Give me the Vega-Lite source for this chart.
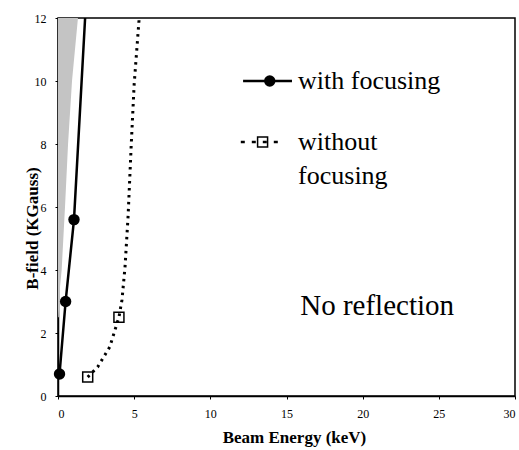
{
  "$schema": "https://vega.github.io/schema/vega-lite/v6.json",
  "width": 457,
  "height": 378,
  "autosize": {"type": "none"},
  "padding": {"left": 58, "top": 18, "right": 4, "bottom": 54},
  "background": "white",
  "config": {
    "view": {"stroke": "black", "strokeWidth": 1.5},
    "font": "Liberation Serif"
  },
  "datasets": {
    "hatch": [
      {"B": 2.5, "left": 0, "right": 0.05},
      {"B": 3.3, "left": 0, "right": 0.1},
      {"B": 4.0, "left": 0, "right": 0.24},
      {"B": 6.0, "left": 0, "right": 0.46},
      {"B": 8.0, "left": 0, "right": 0.66},
      {"B": 10.0, "left": 0, "right": 0.92},
      {"B": 12.0, "left": 0, "right": 1.31}
    ],
    "focus": [
      {"E": 0.1, "B": 0.7},
      {"E": 0.5, "B": 3.0},
      {"E": 1.05, "B": 5.6},
      {"E": 1.78, "B": 12.0}
    ],
    "nofocus": [
      {"E": 1.95, "B": 0.6},
      {"E": 2.6, "B": 0.92},
      {"E": 3.4, "B": 1.56},
      {"E": 4.0, "B": 2.5},
      {"E": 4.2, "B": 3.05},
      {"E": 4.4, "B": 4.1},
      {"E": 4.6, "B": 5.7},
      {"E": 4.8, "B": 7.9},
      {"E": 5.0, "B": 9.9},
      {"E": 5.33, "B": 12.0}
    ],
    "focusMarkers": [
      {"E": 0.1, "B": 0.7},
      {"E": 0.5, "B": 3.0},
      {"E": 1.05, "B": 5.6},
      {"E": 13.9, "B": 10.0}
    ],
    "nofocusMarkers": [
      {"E": 1.95, "B": 0.6},
      {"E": 4.0, "B": 2.5},
      {"E": 13.43, "B": 8.06}
    ],
    "legendSolid": [
      {"E": 12.15, "B": 10.0},
      {"E": 15.36, "B": 10.0}
    ],
    "legendDashed": [
      {"E": 12.0, "B": 8.06},
      {"E": 14.8, "B": 8.06}
    ],
    "legendText": [
      {"E": 15.76, "B": 10.0, "label": "with focusing"},
      {"E": 15.76, "B": 8.06, "label": "without"},
      {"E": 15.76, "B": 6.97, "label": "focusing"}
    ],
    "regionText": [
      {"E": 15.9, "B": 2.85, "label": "No reflection"}
    ]
  },
  "layer": [
    {
      "data": {"name": "hatch"},
      "mark": {"type": "area", "orient": "horizontal", "color": "#c4c4c4", "clip": true},
      "encoding": {
        "y": {"field": "B", "type": "quantitative", "scale": {"domain": [0, 12]},
          "axis": {
            "title": "B-field (KGauss)",
            "values": [0, 2, 4, 6, 8, 10, 12],
            "grid": false,
            "domainColor": "black",
            "domainWidth": 1.5,
            "tickColor": "black",
            "tickSize": 3,
            "labelPadding": 9,
            "labelFont": "Liberation Serif",
            "labelFontSize": 12,
            "labelColor": "black",
            "titleFont": "Liberation Serif",
            "titleFontSize": 17,
            "titleFontWeight": "bold",
            "titleColor": "black",
            "titleX": -26,
            "titleY": 210,
            "titleBaseline": "middle",
            "titleAlign": "center"
          }},
        "x": {"field": "left", "type": "quantitative", "scale": {"domain": [0, 30]},
          "axis": {
            "title": "Beam Energy (keV)",
            "values": [0, 5, 10, 15, 20, 25, 30],
            "grid": false,
            "domainColor": "black",
            "domainWidth": 1.5,
            "tickColor": "black",
            "tickSize": 3,
            "labelPadding": 9,
            "labelFont": "Liberation Serif",
            "labelFontSize": 12,
            "labelColor": "black",
            "titleFont": "Liberation Serif",
            "titleFontSize": 17,
            "titleFontWeight": "bold",
            "titleColor": "black",
            "titlePadding": 10,
            "titleX": 236
          }},
        "x2": {"field": "right"}
      }
    },
    {
      "data": {"name": "focus"},
      "mark": {"type": "line", "color": "black", "strokeWidth": 2.5, "clip": true},
      "encoding": {
        "x": {"field": "E", "type": "quantitative"},
        "y": {"field": "B", "type": "quantitative"},
        "order": {"field": "B"}
      }
    },
    {
      "data": {"name": "nofocus"},
      "mark": {"type": "line", "color": "black", "strokeWidth": 3, "strokeDash": [2.5, 4.5], "strokeCap": "butt", "clip": true},
      "encoding": {
        "x": {"field": "E", "type": "quantitative"},
        "y": {"field": "B", "type": "quantitative"},
        "order": {"field": "B"}
      }
    },
    {
      "data": {"name": "legendSolid"},
      "mark": {"type": "line", "color": "black", "strokeWidth": 2.5},
      "encoding": {
        "x": {"field": "E", "type": "quantitative"},
        "y": {"field": "B", "type": "quantitative"}
      }
    },
    {
      "data": {"name": "legendDashed"},
      "mark": {"type": "line", "color": "black", "strokeWidth": 2.5, "strokeDash": [4, 7], "strokeCap": "butt"},
      "encoding": {
        "x": {"field": "E", "type": "quantitative"},
        "y": {"field": "B", "type": "quantitative"}
      }
    },
    {
      "data": {"name": "focusMarkers"},
      "mark": {"type": "point", "shape": "circle", "filled": true, "color": "black", "size": 130, "opacity": 1},
      "encoding": {
        "x": {"field": "E", "type": "quantitative"},
        "y": {"field": "B", "type": "quantitative"}
      }
    },
    {
      "data": {"name": "nofocusMarkers"},
      "mark": {"type": "point", "shape": "square", "filled": false, "color": "black", "strokeWidth": 1.5, "size": 100, "opacity": 1},
      "encoding": {
        "x": {"field": "E", "type": "quantitative"},
        "y": {"field": "B", "type": "quantitative"}
      }
    },
    {
      "data": {"name": "legendText"},
      "mark": {"type": "text", "align": "left", "baseline": "middle", "font": "Liberation Serif", "fontSize": 26, "color": "black"},
      "encoding": {
        "x": {"field": "E", "type": "quantitative"},
        "y": {"field": "B", "type": "quantitative"},
        "text": {"field": "label"}
      }
    },
    {
      "data": {"name": "regionText"},
      "mark": {"type": "text", "align": "left", "baseline": "middle", "font": "Liberation Serif", "fontSize": 29, "color": "black"},
      "encoding": {
        "x": {"field": "E", "type": "quantitative"},
        "y": {"field": "B", "type": "quantitative"},
        "text": {"field": "label"}
      }
    }
  ]
}
